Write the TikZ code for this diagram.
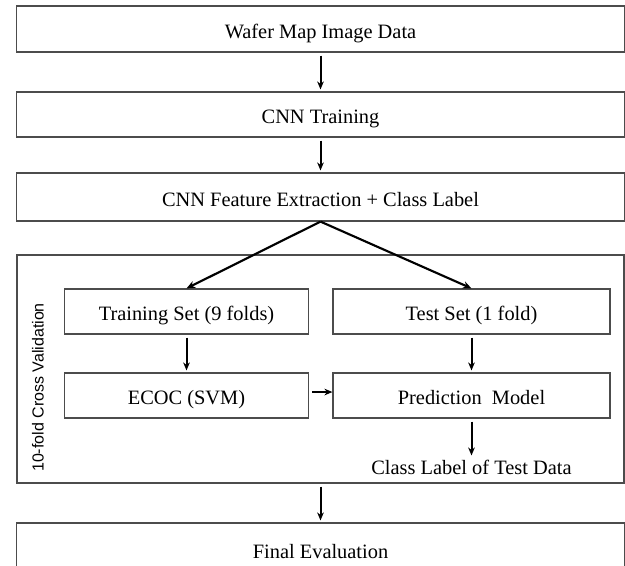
\documentclass[tikz,border=0pt]{standalone}
\usepackage{fontspec}
\setmainfont{Liberation Serif}
\newfontfamily\labelsans{Liberation Sans}
\usetikzlibrary{arrows.meta}
\tikzset{
  box/.style={draw=black!70, line width=0.9pt, inner sep=0pt, text height=14pt, text depth=0pt, font=\fontsize{15.3}{18}\selectfont},
  flow/.style={draw=black, line width=1.5pt, -{Stealth[length=6pt,width=5pt]}, shorten <=2.2pt, shorten >=1.5pt},
  split/.style={draw=black, line width=1.6pt, -{Stealth[length=6.5pt,width=5.5pt]}},
  plain/.style={font=\fontsize{15.3}{18}\selectfont, inner sep=0pt}
}
\begin{document}
\begin{tikzpicture}[x=0.75pt, y=-0.75pt]
\useasboundingbox (0,0) rectangle (625,566);
\clip (0,0) rectangle (625,566);
% top boxes
\node[box, minimum width=608*0.75pt, minimum height=46*0.75pt] (b1) at (320.5,29) {Wafer Map Image Data};
\node[box, minimum width=608*0.75pt, minimum height=45*0.75pt] (b2) at (320.5,114.5) {CNN Training};
\node[box, minimum width=608*0.75pt, minimum height=48*0.75pt] (b3) at (320.5,197) {CNN Feature Extraction + Class Label};
% cross validation frame
\node[box, minimum width=607*0.75pt, minimum height=228*0.75pt, text height=0pt] (cv) at (320.5,369) {};
\node[font=\labelsans\fontsize{12}{14}\selectfont, rotate=90, inner sep=0pt] (cvl) at (38,387.5) {10-fold Cross Validation};
% inner boxes
\node[box, minimum width=244*0.75pt, minimum height=45*0.75pt] (train) at (186.5,311.5) {Training Set (9 folds)};
\node[box, minimum width=277*0.75pt, minimum height=45*0.75pt] (test) at (471.5,311.5) {Test Set (1 fold)};
\node[box, minimum width=244*0.75pt, minimum height=45*0.75pt] (ecoc) at (186.5,395.5) {ECOC (SVM)};
\node[box, minimum width=277*0.75pt, minimum height=45*0.75pt] (pred) at (471.5,395.5) {Prediction~~Model};
\node[plain] (cl) at (471.5,467) {Class Label of Test Data};
% final box (bottom edge outside the picture)
\node[box, minimum width=608*0.75pt, minimum height=60*0.75pt, text height=0pt] (final) at (320.5,553) {};
\node[plain] (finalt) at (320.5,552) {Final Evaluation};
% connectors
\draw[flow] (b1) -- (b2);
\draw[flow] (b2) -- (b3);
\draw[split] (b3.south) -- (train.north);
\draw[split] (b3.south) -- (test.north);
\draw[flow] (train) -- (ecoc);
\draw[flow] (test) -- (pred);
\draw[flow, shorten <=2.5pt, shorten >=0pt] ([yshift=2.6pt]ecoc.east) -- ([yshift=2.6pt]pred.west);
\draw[flow, shorten >=3pt] (pred.south) -- (cl.north);
\draw[flow] (cv.south) -- (final.north);
\end{tikzpicture}
\end{document}
